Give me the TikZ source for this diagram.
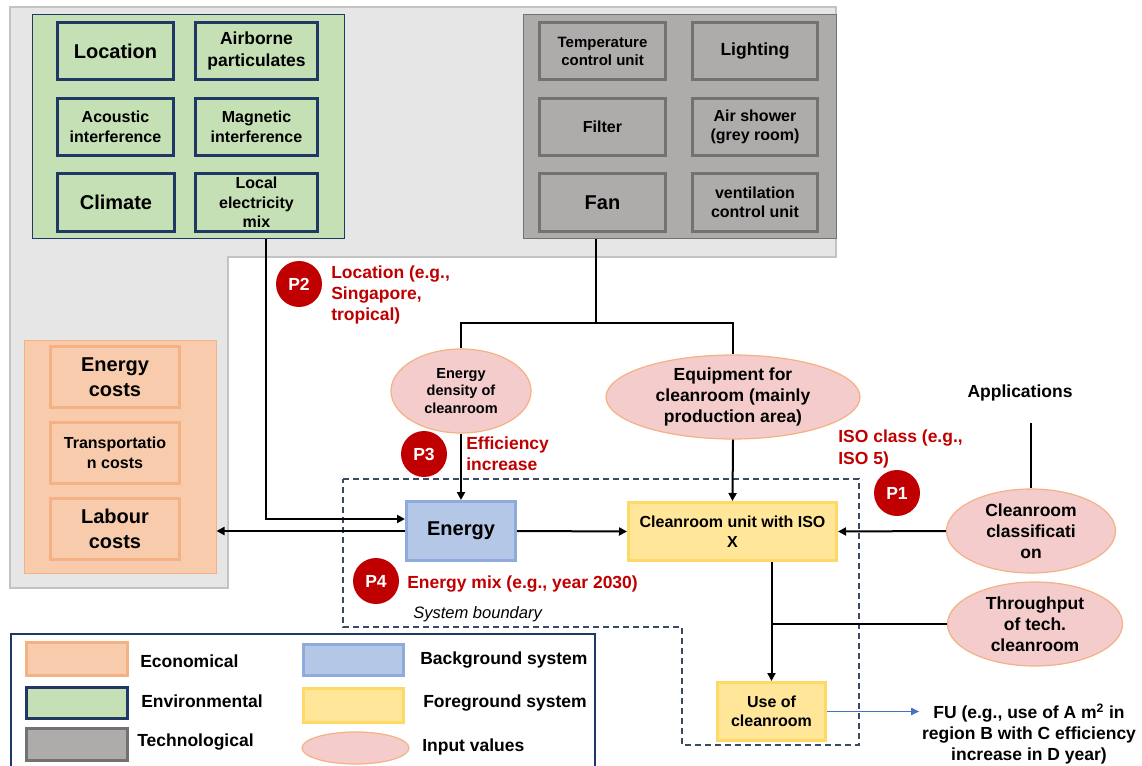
\documentclass[tikz,border=0pt]{standalone}
\usepackage{fontspec}
\setmainfont{Liberation Sans}
\usetikzlibrary{arrows.meta,shapes.geometric}

\definecolor{bgfill}{HTML}{E7E6E6}
\definecolor{bgline}{HTML}{C3C3C3}
\definecolor{envfill}{HTML}{C5E0B4}
\definecolor{navy}{HTML}{203864}
\definecolor{techfill}{HTML}{AEABAB}
\definecolor{techline}{HTML}{767171}
\definecolor{ecofill}{HTML}{F8CBAD}
\definecolor{ecoline}{HTML}{F4B183}
\definecolor{bgsysfill}{HTML}{B4C7E7}
\definecolor{bgsysline}{HTML}{8FAADC}
\definecolor{fgfill}{HTML}{FFE699}
\definecolor{fgline}{HTML}{FFD966}
\definecolor{infill}{HTML}{F4CCCC}
\definecolor{pred}{HTML}{C00000}
\definecolor{bound}{HTML}{3B4A63}
\definecolor{fublue}{HTML}{4472C4}

\newcommand\fsBig{\fontsize{15pt}{18.75pt}\selectfont\bfseries}
\newcommand\fsLab{\fontsize{13.125pt}{15.9pt}\selectfont\bfseries}
\newcommand\fsMid{\fontsize{12pt}{14.6pt}\selectfont\bfseries}
\newcommand\fsSm{\fontsize{11.25pt}{13.5pt}\selectfont\bfseries}
\newcommand\fsXs{\fontsize{10.9pt}{13.1pt}\selectfont\bfseries}

\begin{document}
\begin{tikzpicture}[x=0.75pt,y=-0.75pt,
  wh/.style 2 args={minimum width={#1*0.75pt},minimum height={#2*0.75pt}},
  envbox/.style={draw=navy,line width=2.25pt,fill=envfill,inner sep=1pt,align=center},
  techbox/.style={draw=techline,line width=2.25pt,fill=techfill,inner sep=1pt,align=center},
  ecobox/.style={draw=ecoline,line width=2.25pt,fill=ecofill,inner sep=1pt,align=center},
  bgbox/.style={draw=bgsysline,line width=2.25pt,fill=bgsysfill,inner sep=1pt,align=center},
  fgbox/.style={draw=fgline,line width=2.25pt,fill=fgfill,inner sep=1pt,align=center},
  inval/.style={ellipse,draw=ecoline,line width=0.9pt,fill=infill,inner sep=0pt},
  intext/.style={font=\fsLab,align=center,inner sep=0pt},
  pmark/.style={circle,fill=pred,text=white,inner sep=0pt,minimum size=34.5pt,font=\fsLab},
  redtxt/.style={text=pred,font=\fsLab,align=left,inner sep=0pt},
  legtxt/.style={font=\fsLab,anchor=west,inner sep=0pt},
  conn/.style={line width=1.5pt,draw=black},
  arr/.style={conn,-{Triangle[length=6pt,width=6pt]}},
  bluearr/.style={line width=0.75pt,draw=fublue,-{Triangle[length=6pt,width=5.5pt]}}
]
\useasboundingbox (0,0) rectangle (1142,766);
\clip (0,0) rectangle (1142,766);
\fill[white] (0,0) rectangle (1142,766);

% light grey background region
\draw[fill=bgfill,draw=bgline,line width=1.5pt]
  (10,7) -- (836,7) -- (836,257) -- (228,257) -- (228,588) -- (10,588) -- cycle;

% containers
\node[draw=navy,line width=0.75pt,fill=envfill,wh={312}{224}] (gcont) at (188,127) {};
\node[draw=techline,line width=0.75pt,fill=techfill,wh={313}{224}] (tcont) at (679.5,127) {};
\node[draw=ecoline,line width=0.75pt,fill=ecofill,wh={192}{232}] (ocont) at (120,457) {};

% environmental boxes
\node[envbox,wh={116}{57},font=\fsBig] (loc) at (115.5,51) {Location};
\node[envbox,wh={122}{57},font=\fsLab] (air) at (256.5,51) {Airborne\\particulates};
\node[envbox,wh={116}{57},font=\fsMid] (acou) at (115.5,127) {Acoustic\\interference};
\node[envbox,wh={122}{57},font=\fsMid] (mag) at (256.5,127) {Magnetic\\interference};
\node[envbox,wh={117}{58},font=\fsBig] (clim) at (116,202.5) {Climate};
\node[envbox,wh={122}{58},font=\fsMid] (elec) at (256.5,202.5) {Local\\electricity\\mix};

% technological boxes
\node[techbox,wh={126}{57},font=\fsSm] (temp) at (602.5,51) {Temperature\\control unit};
\node[techbox,wh={125}{57},font=\fsLab] (light) at (755,51) {Lighting};
\node[techbox,wh={126}{57},font=\fsMid] (filter) at (602.5,127) {Filter};
\node[techbox,wh={125}{57},font=\fsMid] (airsh) at (755,127) {Air shower\\(grey room)};
\node[techbox,wh={126}{58},font=\fsBig] (fan) at (602.5,202.5) {Fan};
\node[techbox,wh={125}{58},font=\fsMid] (vent) at (755,202.5) {ventilation\\control unit};

% economical boxes
\node[ecobox,wh={129}{61},font=\fsBig] (ecost) at (115,377) {Energy\\costs};
\node[ecobox,wh={129}{61},font=\fsMid] (tcost) at (115,453) {Transportatio\\n costs};
\node[ecobox,wh={129}{61},font=\fsBig] (lcost) at (115,529) {Labour\\costs};

% system boundary
\draw[bound,line width=1.1pt,dash pattern=on 4.5pt off 3pt]
  (343,479) -- (859,479) -- (859,745) -- (682,745) -- (682,627) -- (343,627) -- cycle;

% system boxes
\node[bgbox,wh={109}{59},font=\fsBig] (energy) at (461,531) {Energy};
\node[fgbox,wh={208}{58},font=\fsMid] (crunit) at (732.5,531.5) {Cleanroom unit with ISO\\X};
\node[fgbox,wh={108}{58},font=\fsMid] (use) at (771.5,711.5) {Use of\\cleanroom};

% input value ellipses
\node[inval,wh={140}{84}] (edens) at (461,391) {};
\node[intext,font=\fsXs] (edens-t) at (edens) {Energy\\density of\\cleanroom};
\node[inval,wh={254}{84}] (equip) at (733,397) {};
\node[intext] (equip-t) at (equip) {Equipment for\\cleanroom (mainly\\production area)};
\node[inval,wh={169}{84}] (class) at (1031,531) {};
\node[intext] (class-t) at (class) {Cleanroom\\classificati\\on};
\node[inval,wh={175}{84}] (thru) at (1035,624) {};
\node[intext] (thru-t) at (thru) {Throughput\\of tech.\\cleanroom};

% plain texts
\node[font=\fsLab,inner sep=0pt] (apps) at (1020,393) {Applications};
\node[font=\fsLab,align=center,inner sep=2pt] (fu) at (1029,734)
  {FU (e.g., use of A m\textsuperscript{2} in\\region B with C efficiency\\increase in D year)};

% P markers and red notes
\node[pmark] (p2) at (299,284) {P2};
\node[pmark] (p3) at (424,454) {P3};
\node[pmark] (p4) at (376,581) {P4};
\node[pmark] (p1) at (897,493) {P1};
\node[redtxt,anchor=west] (p2t) at (331,295) {Location (e.g.,\\Singapore,\\tropical)};
\node[redtxt,anchor=west] (p3t) at (466,453.5) {Efficiency\\increase};
\node[redtxt,anchor=west] (p1t) at (838,449) {ISO class (e.g.,\\ISO 5)};
\node[redtxt,anchor=west] (p4t) at (407,584) {Energy mix (e.g., year 2030)};
\node[font=\fontsize{12.4pt}{15pt}\selectfont\itshape,anchor=west,inner sep=0pt] (sysb) at (413,614) {System boundary};

% connectors
\coordinate (fanj) at (596,323);
\coordinate (jl) at (461,323);
\coordinate (jr) at (733,323);
\coordinate (appl) at (1031,423);
\draw[arr] ([xshift=58.5pt]gcont.south) |- ([yshift=9pt]energy.west);
\draw[conn] (tcont.south -| fanj) -- (fanj);
\draw[conn] (edens.north) -- (jl) -- (jr) -- (equip.north);
\draw[arr] (edens.south) -- (energy.north);
\draw[arr] (equip.south) -- (crunit.north);
\draw[arr] (energy.east) -- (crunit.west);
\draw[arr] (energy.west) -- (energy.west -| ocont.east);
\draw[arr] (class.west) -- (crunit.east);
\draw[conn] (appl) -- (class.north);
\draw[arr] (crunit.south -| use.north) -- (use.north);
\draw[conn] (thru.west) -- (thru.west -| use.north);
\draw[bluearr] (use.east) -- (use.east -| fu.west);

% legend
\node[draw=navy,line width=1.5pt,wh={584}{140},anchor=north west] (legend) at (10,633) {};
\node[ecobox,wh={101}{33}] (lg-eco) at (77,659) {};
\node[envbox,wh={101}{31}] (lg-env) at (77,702.5) {};
\node[techbox,wh={101}{32}] (lg-tech) at (77,744.5) {};
\node[bgbox,wh={100}{31}] (lg-bg) at (353.5,660) {};
\node[fgbox,wh={100}{34}] (lg-fg) at (353.5,705.5) {};
\node[inval,wh={107}{32}] (lg-in) at (355.5,748) {};
\node[legtxt] (lg-eco-t) at (140,661) {Economical};
\node[legtxt] (lg-env-t) at (141,701) {Environmental};
\node[legtxt] (lg-tech-t) at (137,742) {Technological};
\node[legtxt] (lg-bg-t) at (420,660) {Background system};
\node[legtxt] (lg-fg-t) at (423,703) {Foreground system};
\node[legtxt] (lg-in-t) at (422,747) {Input values};
\end{tikzpicture}
\end{document}
